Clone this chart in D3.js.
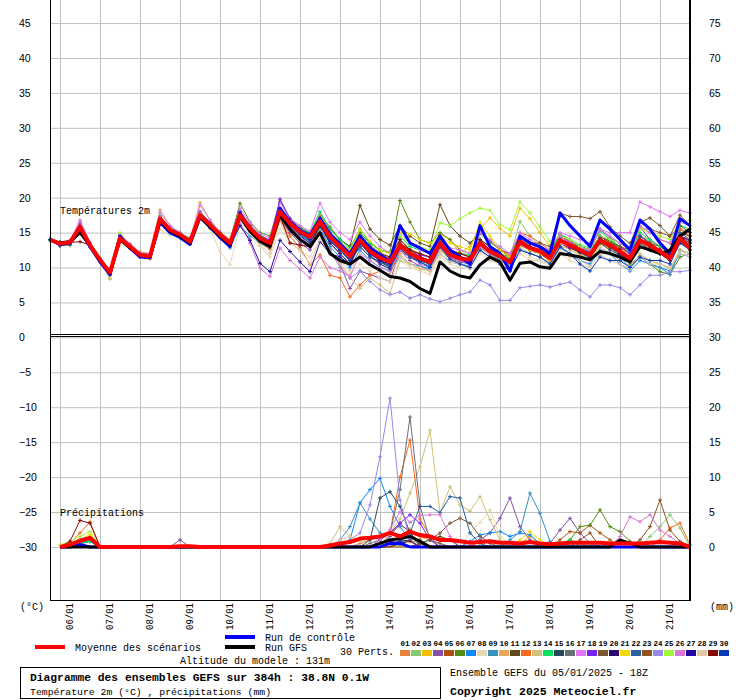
<!DOCTYPE html>
<html>
<head>
<meta charset="utf-8">
<title>Diagramme des ensembles GEFS</title>
<script src="https://cdn.jsdelivr.net/npm/d3@7"></script>
<style>
  body { margin: 0; background: #fff; }
  svg { display: block; }
</style>
</head>
<body>
<svg id="chart" width="740" height="700"></svg>
<script>
// ---- data ----
// temperatures 2m, one value every 6h from 05/01 18Z (t=0) to 384h -> 65 values
// layout of each row: first value, then 4 values per day (00Z 06Z 12Z 18Z) 06/01 .. 21/01
var t01 = [14.0, 13.5,13.8,15.5,13.3, 11.0,9.0,14.3,13.2, 11.9,11.5,16.8,15.6, 14.8,13.5,17.6,16.0, 14.4,13.1,17.2,15.0, 13.5,12.6,16.8,15.0, 14.0,13.0,15.5,13.5, 12.0,10.5,13.0,11.5, 10.5,9.8,12.5,11.5, 11.0,10.5,13.0,11.5, 11.0,10.5,12.8,12.0, 11.2,10.5,13.5,12.5, 12.0,11.0,13.0,12.8, 12.0,11.5,13.5,12.8, 12.0,11.0,14.0,13.0, 12.0,11.5,14.0,13.0];
var t02 = [14.0, 13.3,13.5,16.0,13.5, 11.3,9.5,14.6,13.1, 12.0,11.8,17.2,15.5, 14.8,13.9,17.9,16.4, 15.0,13.8,17.9,16.0, 14.6,13.9,18.3,16.8, 15.6,14.9,17.2,15.0, 13.8,12.5,14.8,13.2, 12.2,11.5,14.0,12.6, 12.0,11.4,14.2,12.5, 12.0,11.8,14.8,13.5, 12.8,11.5,16.6,14.5, 13.0,12.0,14.0,13.5, 12.8,12.2,14.5,14.0, 13.0,12.0,14.5,13.8, 13.0,12.2,15.0,14.5];
var t03 = [14.0, 13.4,13.7,15.6,13.0, 11.0,8.5,14.0,12.7, 11.5,11.2,16.8,15.2, 14.5,13.5,17.3,15.9, 14.6,13.3,17.3,15.5, 14.0,13.2,17.8,16.0, 14.8,14.0,16.2,14.0, 12.6,11.0,13.5,12.0, 11.0,10.2,13.0,12.5, 12.0,11.5,14.8,14.0, 12.0,13.0,15.5,17.1, 15.6,14.5,18.5,17.0, 15.0,13.0,13.8,13.0, 12.0,11.0,13.5,13.0, 12.2,11.0,13.8,13.0, 12.0,11.0,14.0,13.5];
var t04 = [14.0, 13.2,13.4,16.2,13.4, 11.2,9.4,14.4,13.2, 11.7,11.7,17.1,15.3, 14.6,13.6,17.4,16.0, 14.5,13.3,17.2,15.2, 13.8,13.0,17.0,15.0, 13.5,12.5,15.0,12.5, 10.5,7.0,9.5,9.0, 8.5,8.0,12.5,11.0, 10.2,9.5,12.8,11.2, 10.8,10.5,13.0,12.0, 11.0,10.5,13.5,12.5, 12.0,11.2,14.5,13.8, 13.0,12.5,15.5,14.2, 13.5,12.5,15.8,14.0, 13.0,12.0,15.5,14.5];
var t05 = [14.0, 13.5,13.6,15.4,13.1, 11.0,9.2,14.1,13.0, 11.9,11.6,16.9,15.3, 14.6,13.8,17.6,16.2, 14.8,13.6,17.6,15.8, 14.4,13.7,18.2,16.5, 15.3,14.6,16.9,14.6, 13.2,11.8,14.2,12.5, 11.6,11.0,13.4,12.2, 11.5,11.0,13.5,11.6, 11.0,10.8,13.2,12.0, 11.3,10.5,13.2,12.5, 12.0,11.0,13.5,12.8, 12.2,11.5,13.6,12.8, 12.0,11.0,13.5,12.8, 12.0,11.0,13.8,12.5];
var t06 = [14.0, 13.3,13.2,15.6,13.0, 11.2,9.4,14.6,13.0, 12.2,12.0,17.3,15.5, 14.9,14.2,18.0,16.5, 15.0,13.9,19.2,16.5, 15.0,14.5,19.5,17.0, 15.8,15.0,17.5,15.8, 14.0,13.0,15.0,13.5, 12.5,12.2,19.6,16.5, 14.0,13.5,15.0,14.0, 12.5,12.0,13.5,12.5, 12.0,11.5,14.5,13.0, 12.5,11.8,14.0,13.5, 12.5,12.0,14.0,13.5, 12.0,10.5,11.5,10.5, 9.4,9.0,11.5,12.0];
var t07 = [14.0, 13.4,13.5,15.0,12.9, 10.8,8.9,13.8,12.8, 11.6,11.5,16.6,15.0, 14.3,13.4,17.0,15.8, 14.2,12.8,16.0,14.5, 13.5,12.8,17.0,15.5, 14.5,13.8,15.5,13.0, 11.5,10.0,12.5,11.0, 10.0,9.5,11.5,10.5, 10.2,9.8,12.0,10.8, 10.5,10.2,12.5,11.5, 11.0,10.2,12.5,12.0, 11.5,10.5,12.8,12.0, 11.0,10.5,12.5,12.0, 10.5,9.5,11.0,10.5, 10.0,9.5,12.0,11.5];
var t08 = [14.0, 13.6,13.9,15.2,13.2, 11.0,9.0,13.3,12.9, 11.6,11.3,15.4,14.6, 14.5,13.5,17.0,15.5, 12.3,10.4,16.0,14.0, 13.0,11.5,15.5,13.5, 12.5,11.5,14.0,12.0, 10.5,9.0,10.5,9.5, 8.5,8.0,11.0,10.0, 9.5,9.0,11.5,10.5, 10.0,9.8,12.0,11.0, 10.5,10.0,12.5,11.5, 11.0,10.0,12.0,11.0, 10.5,10.0,12.0,11.0, 10.5,9.8,11.8,11.0, 10.5,10.0,12.5,11.5];
var t09 = [14.0, 13.2,13.4,15.7,13.3, 11.2,9.5,14.3,13.1, 11.8,11.7,17.2,15.5, 14.8,13.9,17.6,16.2, 14.8,13.7,17.8,15.8, 14.3,13.6,18.1,16.4, 15.0,14.2,16.5,14.0, 12.5,11.0,13.5,12.0, 11.0,10.5,12.8,11.5, 10.8,10.2,13.0,11.5, 11.0,10.8,13.2,12.0, 11.2,10.5,13.5,12.8, 12.2,11.5,14.2,13.2, 12.2,11.2,13.8,13.0, 11.5,10.0,11.5,10.5, 10.0,9.0,12.5,12.0];
var t10 = [14.0, 13.6,13.8,16.5,13.6, 11.4,9.6,14.8,13.4, 12.2,12.0,18.3,16.0, 15.0,14.0,19.3,16.8, 15.2,14.0,18.0,16.2, 14.5,13.8,18.5,16.8, 15.5,14.8,17.5,15.0, 13.5,12.0,14.5,12.8, 11.5,10.5,12.0,10.5, 9.8,9.5,12.5,11.5, 11.0,10.5,13.0,12.2, 11.5,11.0,14.0,13.5, 12.5,11.8,14.8,14.0, 13.0,12.5,14.5,13.8, 12.5,12.0,14.5,14.0, 13.0,12.5,15.5,15.0];
var t11 = [14.0, 13.5,13.6,15.9,13.3, 11.1,9.3,14.2,13.1, 11.9,11.7,17.1,15.5, 14.8,13.8,17.6,16.2, 14.8,13.6,17.6,15.7, 14.3,13.6,18.1,16.4, 15.4,14.8,17.2,15.5, 14.0,13.0,18.9,15.5, 14.0,13.2,16.0,14.5, 13.5,13.0,19.0,16.0, 14.5,13.5,15.0,13.8, 12.5,12.0,14.5,13.5, 13.0,12.0,14.5,13.5, 13.0,12.5,14.5,13.8, 13.0,12.0,14.5,13.5, 13.0,12.0,15.0,14.5];
var t12 = [14.0, 13.4,13.6,15.3,13.0, 10.9,9.1,14.0,12.8, 11.6,11.4,16.7,15.2, 14.5,13.6,17.2,15.8, 14.4,13.0,17.0,15.0, 13.6,12.8,16.8,14.5, 12.8,10.4,11.8,8.9, 8.5,5.8,7.5,8.9, 9.5,9.0,12.5,11.5, 11.0,10.5,13.5,12.0, 11.5,11.0,13.0,12.5, 12.5,11.8,15.0,14.5, 13.5,12.5,14.8,13.5, 12.5,12.0,14.5,13.5, 12.8,12.0,15.5,15.5, 14.0,13.5,15.5,14.5];
var t13 = [14.0, 13.7,13.9,15.9,13.4, 11.1,8.3,14.0,12.9, 11.7,11.5,16.9,15.3, 14.6,13.6,17.4,16.0, 14.5,13.3,17.3,15.4, 14.0,13.2,17.5,15.8, 14.5,13.2,15.2,12.5, 10.5,8.5,7.0,8.5, 7.5,6.3,11.0,10.5, 10.0,9.5,12.5,11.0, 10.5,10.0,12.8,11.8, 11.0,10.2,13.0,12.0, 11.5,10.8,13.2,12.5, 11.8,11.0,13.0,12.0, 11.0,10.0,12.0,11.0, 10.5,9.8,12.5,12.0];
var t14 = [14.0, 13.3,13.5,16.1,13.5, 11.3,9.5,14.8,13.3, 12.0,11.9,17.4,15.7, 15.0,14.0,17.9,16.5, 15.0,13.8,18.0,16.0, 14.6,13.9,18.4,16.8, 15.6,15.0,18.0,15.5, 14.0,12.8,15.5,13.5, 12.5,12.0,14.5,13.0, 12.5,12.0,14.0,12.5, 12.0,11.8,14.0,13.0, 12.0,11.2,14.5,13.5, 12.8,12.0,14.8,14.0, 13.2,12.8,15.2,14.0, 13.0,12.2,15.0,14.0, 13.0,12.5,16.0,15.5];
var t15 = [14.0, 13.1,13.3,15.5,13.1, 11.0,9.1,14.1,12.9, 11.7,11.5,16.9,15.3, 14.6,13.6,17.4,16.0, 14.6,13.4,17.4,15.4, 14.0,13.3,17.8,16.0, 14.8,14.0,16.0,13.8, 12.5,11.0,13.0,11.5, 10.8,10.0,12.5,11.5, 11.0,10.5,13.0,11.5, 11.2,10.8,13.0,12.0, 11.5,10.8,13.5,12.5, 12.0,11.0,13.5,12.8, 12.2,11.5,13.5,12.5, 11.8,11.0,13.5,12.5, 12.0,11.0,13.5,12.5];
var t16 = [14.0, 13.5,13.7,15.7,13.2, 11.1,9.3,14.2,13.0, 11.8,11.6,17.0,15.4, 14.7,13.7,17.5,16.1, 14.7,13.5,17.5,15.6, 14.2,13.5,18.0,16.3, 15.0,14.2,16.5,14.2, 12.8,11.5,14.0,12.5, 11.5,11.0,13.0,11.8, 11.2,10.8,13.2,11.5, 11.0,10.8,13.0,12.0, 11.5,10.8,13.5,12.8, 12.5,11.5,14.0,13.0, 12.5,12.0,14.0,13.0, 12.0,11.2,13.5,12.5, 12.0,11.0,13.8,13.0];
var t17 = [14.0, 13.4,13.8,16.8,13.6, 11.3,9.6,14.8,13.4, 12.1,12.0,17.9,16.0, 15.0,14.0,18.9,16.8, 15.0,13.8,18.5,16.4, 14.8,14.2,19.3,17.0, 16.0,15.2,19.2,16.5, 15.0,14.0,16.5,14.5, 13.0,12.0,15.0,13.5, 12.5,12.0,14.0,12.8, 12.5,12.0,15.0,14.0, 13.0,12.0,15.0,14.0, 13.0,12.5,15.0,14.5, 14.0,13.5,15.5,15.0, 15.0,15.0,19.4,18.7, 18.0,17.3,18.2,17.8];
var t18 = [14.0, 13.3,13.6,16.3,13.5, 11.2,9.4,14.5,13.2, 11.9,11.8,17.2,15.6, 14.9,14.0,17.9,16.4, 15.0,13.8,18.0,16.0, 14.5,13.9,19.8,17.0, 15.5,14.8,17.0,15.0, 13.5,12.0,14.5,13.0, 12.0,11.0,13.5,12.5, 11.8,11.5,14.0,12.5, 11.5,11.0,13.5,12.5, 12.0,11.0,13.5,13.0, 12.5,11.5,13.5,12.8, 12.5,12.0,14.5,13.5, 13.0,12.0,14.5,13.5, 12.5,12.0,14.5,14.0];
var t19 = [14.0, 13.6,13.5,15.6,13.2, 11.0,9.2,14.1,13.0, 11.8,11.6,16.9,15.3, 14.7,13.6,17.4,16.0, 14.6,13.4,17.4,15.5, 14.1,13.4,17.9,16.2, 15.0,14.2,16.5,14.2, 12.8,11.5,14.0,12.5, 11.5,11.0,13.5,12.5, 11.5,11.0,13.5,12.0, 12.0,11.5,13.8,12.5, 12.5,11.5,14.0,13.5, 13.5,13.0,17.8,17.3, 17.3,17.0,18.0,15.8, 14.5,13.5,16.5,17.1, 16.0,14.5,16.0,15.0];
var t20 = [14.0, 13.3,13.5,15.8,13.2, 11.1,9.3,14.3,13.0, 11.8,11.6,17.0,15.4, 14.7,13.7,17.6,16.1, 14.6,13.4,17.2,15.2, 13.8,13.0,17.5,15.8, 14.5,13.5,16.0,13.5, 12.0,10.5,13.5,12.0, 11.0,10.2,13.0,12.0, 11.0,10.5,13.2,11.5, 11.0,10.8,13.5,12.5, 11.8,11.0,13.8,13.0, 12.5,11.8,14.0,13.0, 12.2,11.5,13.8,13.0, 12.0,11.0,13.8,13.0, 12.0,11.0,14.0,13.0];
var t21 = [14.0, 13.5,13.7,15.6,13.1, 11.0,9.0,14.0,12.9, 11.7,11.5,16.9,15.3, 14.6,13.6,17.3,15.9, 14.5,13.3,17.2,15.4, 14.0,13.3,17.6,16.0, 14.9,14.2,16.8,14.8, 13.5,12.5,15.5,13.8, 12.5,12.0,15.0,14.8, 14.0,13.5,14.5,13.5, 13.0,12.5,16.5,14.5, 12.5,11.5,13.5,12.5, 12.0,11.0,13.5,13.0, 12.5,12.0,14.0,13.5, 12.5,11.5,14.0,13.5, 12.5,11.8,15.0,14.0];
var t22 = [14.0, 13.4,13.6,15.6,13.1, 11.0,9.2,14.0,12.9, 11.7,11.6,16.8,15.2, 14.5,13.6,17.3,15.9, 14.5,13.2,17.2,15.3, 13.8,13.0,17.5,15.8, 14.6,13.8,16.2,14.0, 12.5,11.0,13.0,11.5, 10.8,10.2,13.5,12.0, 11.0,10.5,13.5,11.8, 11.5,11.0,14.0,12.5, 11.8,11.0,14.0,13.0, 12.5,11.5,14.5,13.5, 12.8,12.2,14.5,13.5, 12.5,11.5,14.5,13.5, 12.5,11.5,15.0,14.0];
var t23 = [14.0, 13.5,13.8,16.0,13.4, 11.2,9.4,14.4,13.1, 11.9,11.7,17.1,15.5, 14.8,13.8,17.7,16.2, 14.8,13.6,17.8,15.8, 14.4,13.7,18.2,16.5, 15.3,14.6,17.0,14.8, 13.5,12.0,14.5,12.8, 11.8,11.0,13.5,12.5, 11.5,11.0,14.0,12.0, 11.5,11.2,13.5,12.5, 12.0,11.0,14.0,13.5, 12.8,12.0,14.5,13.5, 13.0,12.5,14.5,13.5, 13.0,12.5,16.5,15.5, 15.0,14.5,17.5,16.0];
var t24 = [14.0, 13.4,13.6,15.8,13.3, 11.2,9.3,14.2,13.0, 11.8,11.6,17.0,15.4, 14.7,13.7,17.5,16.0, 14.6,13.4,17.4,15.5, 14.0,13.2,17.6,15.8, 14.5,13.2,15.0,12.5, 10.0,8.5,9.5,8.0, 6.8,6.1,6.5,5.6, 6.1,5.5,5.1,5.6, 6.1,6.5,8.2,7.5, 5.3,5.3,7.1,7.3, 7.5,7.2,7.6,7.9, 6.8,5.8,7.5,7.5, 7.1,6.1,7.5,8.9, 8.9,9.4,9.4,9.6];
var t25 = [14.0, 13.3,13.4,15.6,13.2, 11.1,9.3,15.0,13.0, 11.8,11.6,17.1,15.4, 14.7,13.8,17.6,16.1, 14.7,13.5,17.6,15.6, 14.2,13.5,18.1,16.3, 15.2,14.5,16.8,14.8, 13.2,12.0,14.2,12.8, 12.0,11.5,14.5,13.5, 13.0,12.5,16.4,16.0, 17.0,17.8,18.5,18.2, 16.1,15.4,19.4,17.8, 15.8,13.7,14.5,14.0, 13.0,12.5,14.5,14.0, 13.5,13.0,15.5,15.0, 14.5,14.0,16.5,16.8];
var t26 = [14.0, 13.6,13.9,16.6,13.5, 11.2,9.4,14.5,13.2, 11.9,11.7,17.2,15.6, 14.9,13.9,17.8,16.2, 14.5,13.0,16.5,13.5, 9.9,8.7,12.8,11.0, 9.8,8.5,11.5,10.0, 9.5,8.7,12.0,11.0, 10.0,9.5,12.5,11.5, 10.5,10.0,13.0,11.5, 11.0,10.5,13.0,12.0, 11.5,10.8,14.0,13.5, 12.5,11.5,14.5,13.5, 12.8,12.5,15.5,14.5, 13.5,13.0,16.0,15.0, 14.0,13.5,16.5,16.0];
var t27 = [14.0, 13.4,13.6,15.5,13.1, 11.0,9.1,14.1,12.9, 11.7,11.5,16.8,15.3, 14.6,13.6,17.3,15.9, 14.5,13.3,16.0,13.9, 10.6,9.4,13.9,12.3, 10.8,9.4,13.7,12.0, 11.5,10.5,13.5,12.0, 11.0,10.5,13.0,12.0, 11.5,11.0,13.5,12.0, 11.5,11.0,13.5,12.5, 11.8,11.0,14.0,13.0, 12.5,11.5,14.0,13.0, 12.5,12.0,14.2,13.2, 12.5,11.5,14.0,13.0, 12.5,11.5,14.5,13.5];
var t28 = [14.0, 13.5,13.8,15.4,13.0, 10.9,9.0,13.8,12.8, 11.5,11.3,16.6,15.1, 14.4,13.4,17.0,15.6, 14.2,13.0,16.8,14.8, 13.2,12.0,16.5,13.5, 12.5,10.5,14.0,12.0, 11.0,9.5,12.0,10.5, 9.5,9.0,11.5,10.5, 10.0,9.5,12.0,10.8, 10.5,10.0,12.5,11.0, 10.8,10.0,12.0,11.0, 11.0,10.5,12.5,11.5, 11.0,10.2,11.8,11.0, 10.5,9.8,11.5,10.5, 10.5,10.0,12.0,11.5];
var t29 = [14.0, 13.6,13.6,13.7,13.2, 11.0,9.2,14.0,12.9, 11.7,11.5,16.9,15.3, 14.6,13.6,17.4,16.0, 14.6,13.4,17.4,15.5, 14.2,13.4,17.4,13.5, 13.2,13.0,16.0,14.5, 13.0,12.0,14.5,13.0, 12.0,11.5,14.0,12.5, 12.0,11.5,14.5,12.5, 12.0,11.5,14.0,13.0, 12.0,11.0,13.5,12.8, 12.5,11.5,13.8,13.0, 12.5,12.0,14.0,13.2, 12.5,11.5,14.0,13.2, 12.5,11.8,14.5,13.8];
var t30 = [14.0, 13.2,13.4,15.4,13.0, 10.9,9.0,14.0,12.8, 11.6,11.4,16.7,15.1, 14.4,13.4,17.1,15.7, 14.4,13.2,17.2,15.3, 13.9,13.2,17.8,16.0, 14.8,14.0,16.2,13.8, 12.5,11.0,13.5,11.8, 10.5,9.8,12.8,11.5, 10.8,10.0,13.0,11.2, 10.5,10.0,12.5,11.5, 10.5,9.5,12.5,12.0, 11.5,10.5,13.0,12.0, 10.5,9.5,11.5,11.0, 11.0,10.0,11.5,11.0, 11.0,10.5,13.5,13.0];
var tControl = [14.0, 13.3,13.5,15.2,13.0, 10.8,9.0,14.5,12.8, 11.5,11.4,16.5,15.0, 14.3,13.3,17.2,15.8, 14.3,13.0,17.8,15.4, 14.0,13.2,18.5,16.5, 15.3,14.6,17.0,14.8, 13.4,12.0,14.5,12.8, 11.8,11.0,16.0,13.5, 12.8,12.0,14.5,12.5, 11.5,10.5,16.0,13.0, 12.0,9.5,14.5,13.5, 13.0,12.0,17.8,16.0, 14.5,13.0,16.8,15.5, 14.0,12.5,16.8,15.5, 13.5,12.0,17.0,16.0];
var tGfs = [14.0, 13.5,13.7,15.0,13.2, 11.0,9.2,14.0,12.8, 11.8,11.5,16.8,15.2, 14.5,13.5,17.3,15.8, 14.5,13.3,17.3,15.2, 13.8,13.0,17.5,15.5, 14.0,13.0,15.0,12.0, 11.0,10.5,11.5,10.4, 9.6,8.7,8.5,8.0, 7.0,6.3,10.8,9.5, 8.8,8.5,10.4,11.5, 10.8,8.2,10.6,10.8, 10.1,9.9,12.0,11.8, 11.5,11.1,12.3,12.0, 11.5,10.8,13.0,12.5, 12.0,12.5,14.5,15.5];
var tMean = [14.0, 13.4,13.6,15.8,13.2, 11.1,9.3,14.2,13.0, 11.8,11.6,17.0,15.4, 14.7,13.7,17.5,16.1, 14.7,13.5,17.5,15.6, 14.2,13.5,18.0,16.3, 15.1,14.4,16.6,14.4, 13.0,11.6,13.9,12.3, 11.4,10.8,13.2,12.0, 11.3,10.8,13.5,11.8, 11.3,11.1,13.5,12.3, 11.6,10.8,13.7,12.8, 12.3,11.3,13.9,13.2, 12.5,11.8,13.9,13.2, 12.3,11.3,13.9,13.2, 12.3,11.3,14.2,12.8];

// precipitation (mm per 6h), 64 values, first one ends 06/01 00Z, 4 per day
var p01 = [0,0.3,0.8,1.5, 0,0,0,0, 0,0,0,0, 0,0,0,0, 0,0,0,0, 0,0,0,0, 0,0,0,0, 0,0,0.5,1, 1.5,2,3,2.5, 1.5,1,0.5,0, 0,0,0,0, 0,0,0,0, 0,0,0.5,1, 0.5,0,0,0, 0,0,0,0, 0,0,0,0];
var p02 = [0,0,0.8,1.2, 0,0,0,0, 0,0,0,0, 0,0,0,0, 0,0,0,0, 0,0,0,0, 0,0,0,0, 0,0,0,0, 0,0,0.5,1, 0.5,0,0,0, 0,0,0,0, 0,0,0,0, 0,0,0,0, 0,0,0,0, 0,0,0,1.5, 2.9,4.6,2.7,0];
var p03 = [0,0.5,1,1.5, 0,0,0,0, 0,0,0,0, 0,0,0,0, 0,0,0,0, 0,0,0,0, 0,0,0,0, 0,0,0,0, 0,1,0.8,0, 0,0,0,0, 0,0,0,0, 0,0,0.5,1.5, 0.5,0,0,0, 0,0,0,0, 0,0,0,0, 0,0,0,0];
var p04 = [0,0,0.5,0.8, 0,0,0,0, 0,0,0,0, 1,0,0,0, 0,0,0,0, 0,0,0,0, 0,0,0,0, 0,0,0,0, 0,1.5,3.4,2, 0,0,0,0, 0,0,1,2, 4.1,7,2.9,1, 0,0.5,2.4,4.1, 2,0.5,0,0, 0,0,0,0, 0,0,0,0];
var p05 = [0,0,0.5,1, 0,0,0,0, 0,0,0,0, 0,0,0,0, 0,0,0,0, 0,0,0,0, 0,0,0,0, 0,0,0,0, 0,0.5,1,1.5, 1,0,0,0, 0,0,0,0, 0,0,0,0, 0,0,1,2.2, 2,3.1,2,1, 0,0,0,0, 0,0,0,0];
var p06 = [0,0,0.6,1, 0,0,0,0, 0,0,0,0, 0,0,0,0, 0,0,0,0, 0,0,0,0, 0,0,0,0, 0,0,0,0, 0,0,0.5,0, 0,0,0,0, 0,0,0,0, 0,0,0,0, 0,0,0,1, 2.9,3.1,5.3,2.9, 2.2,0.8,0,0, 0,0,0,0];
var p07 = [0,0,0.4,0.8, 0,0,0,0, 0,0,0,0, 0,0,0,0, 0,0,0,0, 0,0,0,0, 0,0,0,0, 0,1,6.3,8.2, 9.8,5.8,2.9,1, 0,0,0,0, 0,0.8,1.7,2, 2.2,1.5,2,1.7, 0.5,0,0,0, 0,0,0,0, 0,0,0,0, 0,0,0,0];
var p08 = [0,0,0.5,0, 0,0,0,0, 0,0,0,0, 0,0,0,0, 0,0,0,0, 0,0,0,0, 0,0,0,0, 0,0,0,0, 0,0,0,0, 0,0,0,0, 0,2,3.5,5.3, 1.5,0.5,0,0, 0,0,0,0, 0,0,0,0, 0,0,0,0, 0,0,0,0];
var p09 = [0,0,0,0, 0,0,0,0, 0,0,0,0, 0,0,0,0, 0,0,0,0, 0,0,0,0, 0,0,0,0, 1,2.9,6.3,4, 2,1,0,0, 0,0,0,0, 0,0,0,0, 0,1,2.2,7.7, 4.8,0.8,0,0, 0,0,0,0, 0,0,0,0, 0,0,0,0];
var p10 = [0,0,0.8,1.5, 0,0,0,0, 0,0,0,0, 0,0,0,0, 0,0,0,0, 0,0,0,0, 0,0,0,0, 0,0,0,0, 0,0,1,2, 1.5,1,0,0, 0,0,0,0, 0,0,0,0, 0,0,0,0, 0,0,0,0, 0,0,0,0, 0,0,0,0];
var p11 = [0,0,0.5,0, 0,0,0,0, 0,0,0,0, 0,0,0,0, 0,0,0,0, 0,0,0,0, 0,0,0,0, 0,0,0,0, 0,0,0,0, 0.5,1,1.5,1, 0,0,0,0, 0,0,0,0, 0,0,0,0, 0,0,0,0, 0,0,0,0, 0,0,0,0];
var p12 = [0,0.5,2,3.6, 0,0,0,0, 0,0,0,0, 0,0,0,0, 0,0,0,0, 0,0,0,0, 0,0,0,0, 0,0,0,0, 0,2,10,15.3, 4,1.5,0,0, 0,0,0,0, 0,0,0,0, 0,0,0,0, 0,0,0,0, 0,0,0,0, 1,2.7,3.4,0.3];
var p13 = [0,0,0.5,0, 0,0,0,0, 0,0,0,0, 0,0,0,0, 0,0,0,0, 0,0,0,0, 0,0,0,0.5, 2.9,1.5,1,0, 0,2,4,7.7, 11.5,16.7,4.9,8.6, 6,5.1,7.2,3.9, 1,0,0,0, 0,0,0,0, 0,0,0,0, 0,0,0,0, 0,0,0,0];
var p14 = [0,0,0.5,0.8, 0,0,0,0, 0,0,0,0, 0,0,0,0, 0,0,0,0, 0,0,0,0, 0,0,0,0, 0,0,0,0, 0,0,0.5,1, 0,0,0,0, 0,0,0,0, 0,0,0,0, 0,0,0.5,1, 0,0,0,0, 0,0,0,0, 0,0,0,0];
var p15 = [0,0,0.3,0, 0,0,0,0, 0,0,0,0, 0,0,0,0, 0,0,0,0, 0,0,0,0, 0,0,0,0, 0,0,0,1, 7,7.9,5.8,2, 0.5,0,0,0, 0,0,0,0, 0,0,0,0, 0,0,0,0, 0,0,0,0, 0,0,0,0, 0,0,0,0];
var p16 = [0,0,0.5,0, 0,0,0,0, 0,0,0,0, 0,0,0,0, 0,0,0,0, 0,0,0,0, 0,0,0,0, 0,0,0,0.5, 1,2,8.2,18.6, 5.8,1,0.5,0, 0,0,0,0, 0,0,0,0, 0,0,0,0, 0,0,0,0, 0,0,0,0, 0,0,0,0];
var p17 = [0,0,0.5,0, 0,0,0,0, 0,0,0,0, 0,0,0,0, 0,0,0,0, 0,0,0,0, 0,0,0,0, 0,0,0,0, 0,0.5,1,0, 0,0,0,0, 0,0,0,0, 0,0,0,0, 0,0,0,0, 0,0,0,0, 0,0,0,0, 0,0,0,0];
var p18 = [0,0,0.3,0, 0,0,0,0, 0,0,0,0, 0,0,0,0, 0,0,0,0, 0,0,0,0, 0,0,0,0, 0,0,0,0, 1,2,3.4,4.6, 3.4,1,0,0, 0,0,0,0, 0,0,0,0, 0,0,0,0, 0,0,0,0, 0,0,0,0, 0,0,0,0];
var p19 = [0,0,0.5,0, 0,0,0,0, 0,0,0,0, 0,0,0,0, 0,0,0,0, 0,0,0,0, 0,0,0,0, 0,0,0,0, 0,0,0,0, 0.5,1,2,3.4, 4.1,3.4,1.5,0.5, 0,0,0,0, 0,0,0,0, 0,0,0,0, 0,0,0,0, 0,0,0,0];
var p20 = [0,0,0.3,0, 0,0,0,0, 0,0,0,0, 0,0,0,0, 0,0,0,0, 0,0,0,0, 0,0,0,0, 0,0,0,0, 0,0,0.8,1, 0,0,0,0, 0,0,0,0, 0,0,0,0, 0,0,0,0, 0,0,0,0, 0,0,0,0, 0,0,0,0];
var p21 = [0,0.5,1,1.8, 0,0,0,0, 0,0,0,0, 0,0,0,0, 0,0,0,0, 0,0,0,0, 0,0,0,0, 0,0,0,0, 0,0,0.5,0, 0,0,0,0, 0,0,0,0, 0,0,1,2.2, 1,0,0,0, 0,0,0,0, 0,0,0,0, 0,0,0,0];
var p22 = [0,0,0.3,0, 0,0,0,0, 0,0,0,0, 0,0,0,0, 0,0,0,0, 0,0,0,0, 0,0,0,0, 0,0,0,0, 0,0,0.5,2, 5.8,5.8,4.9,7.2, 7,2,0.5,0, 0,0,0,0, 0,0,0,0, 0,0,0,0, 0,0,0,0, 0,0,0,0];
var p23 = [0,0,0.5,0, 0,0,0,0, 0,0,0,0, 0,0,0,0, 0,0,0,0, 0,0,0,0, 0,0,0,0, 0,0,0,0, 0,0,0,0, 0,0,0,0, 0,0,0,0, 0,0,0,0, 0,0,0,0, 1,2,0,0, 0,0,1,2.9, 6.7,2.4,0.8,0];
var p24 = [0,0,0.5,0, 0,0,0,0, 0,0,0,0, 0,0,0,0, 0,0,0,0, 0,0,0,0, 0,0,0,0, 0,1,2,6, 12.9,21.3,6.7,1, 0,0,0,0, 0,0,0,0, 0,0,0,0, 0,0,0,0, 0,0,0,0, 0,0,0,0, 0,0,0,0];
var p25 = [0.3,0.8,1.5,2.2, 0,0,0,0, 0,0,0,0, 0,0,0,0, 0,0,0,0, 0,0,0,0, 0,0,0,0, 0,0,0,0, 0,0,0.5,0, 0,0,0,0, 0,0,0,0, 0,0,0,0, 0,0,0,0, 0,0,0,0, 0,0,0,0, 0,0,0,0];
var p26 = [0,0,0.5,0, 0,0,0,0, 0,0,0,0, 0,0,0,0, 0,0,0,0, 0,0,0,0, 0,0,0,0, 0,0,0,0, 1,2.5,5,3.5, 4.5,4.6,4.6,1.5, 0,0,0,0, 0,0,0,0, 0,0,0,0, 0,0,0,0, 1.5,4.3,3.6,4.6, 2.4,1.5,0.5,0];
var p27 = [0,0,0.3,0, 0,0,0,0, 0,0,0,0, 0,0,0,0, 0,0,0,0, 0,0,0,0, 0,0,0,0, 0,0,0,0, 0,0.8,0.5,0, 0,0,0,0, 0,0,0,0, 0,0,0,0, 0,0,0,0, 0,0,0,0, 0,0,0,0, 0,0,0,0];
var p28 = [0,0,0.3,0, 0,0,0,0, 0,0,0,0, 0,0,0,0, 0,0,0,0, 0,0,0,0, 0,0,0,0, 1,1.5,0.8,0, 0,0,0,0, 0,0,0,0, 0,0,0,0, 0,0,0,0, 0,0,0,0, 0,0,0,0, 0,0,0,0, 0,0,0,0];
var p29 = [0,0.8,3.8,3.4, 0,0,0,0, 0,0,0,0, 0,0,0,0, 0,0,0,0, 0,0,0,0, 0,0,0,0, 0,0,0,0, 0,0,0.5,0.8, 0,0,0,0, 0,0,0,0, 0,0,0,0, 0,0,0,0, 0,0,0,0, 0,0,0,0, 0,0,0,0];
var p30 = [0,0,0.3,0, 0,0,0,0, 0,0,0,0, 0,0,0,0, 0,0,0,0, 0,0,0,0, 0,0,0,0, 0,0,0,0, 0,0.5,0.8,0, 0,0,0,0, 0,0,0,0, 0,0,0,0, 0,0,0,0, 0,0,0,0, 0,0,0,0, 0,0,0,0];
var pControl = [0,0,0.3,0, 0,0,0,0, 0,0,0,0, 0,0,0,0, 0,0,0,0, 0,0,0,0, 0,0,0,0, 0,0,0,0, 0,0.5,0.5,0, 0,0,0,0, 0,0,0,0, 0,0,0,0, 0,0,0,0, 0,0,0,0, 0,0,0,0, 0,0,0,0];
var pGfs = [0,0,0,0, 0,0,0,0, 0,0,0,0, 0,0,0,0, 0,0,0,0, 0,0,0,0, 0,0,0,0, 0,0,0,0, 0.5,1,1.2,1.5, 0.8,0,0,0, 0,0,0,0, 0,0,0,0, 0,0,0,0, 0,0,0,0, 1,0.5,0,0, 0,0,0,0];
var pMean = [0,0.3,0.9,1.3, 0,0,0,0, 0,0,0,0, 0.1,0.1,0,0, 0,0,0,0, 0,0,0,0, 0,0,0,0.2, 0.5,0.7,1.2,1.3, 1.5,2,1.5,2.2, 1.7,1.5,1,1, 0.8,0.6,0.7,0.8, 0.6,0.6,0.5,0.7, 0.5,0.4,0.5,0.6, 0.6,0.6,0.6,0.5, 0.5,0.5,0.5,0.6, 0.7,0.6,0.5,0];

// 30 perturbation colours, as in the legend swatches
var memberColors = ['#e8823a','#88c870','#f0c000','#8850a8','#b05010','#588a10','#1088f8','#e8d8b0','#3890c0','#e8a858',
                    '#604818','#f86820','#d0c078','#08e060','#284858','#687078','#e078f8','#7820f0','#785830','#300870',
                    '#f0d800','#2860a0','#8c5420','#9888e8','#a0f838','#d878d8','#2008a0','#e0c8a8','#880808','#0838b8'];
var memberNames = ['01','02','03','04','05','06','07','08','09','10','11','12','13','14','15',
                   '16','17','18','19','20','21','22','23','24','25','26','27','28','29','30'];
var dayLabels = ['06/01','07/01','08/01','09/01','10/01','11/01','12/01','13/01','14/01','15/01','16/01','17/01','18/01','19/01','20/01','21/01'];
// left scale ticks (°C); the right scale shows the same lines +30 (mm)
var leftTicks = [45,40,35,30,25,20,15,10,5,0,-5,-10,-15,-20,-25,-30];

var tempMembers = [t01,t02,t03,t04,t05,t06,t07,t08,t09,t10,t11,t12,t13,t14,t15,t16,t17,t18,t19,t20,t21,t22,t23,t24,t25,t26,t27,t28,t29,t30];
var precipMembers = [p01,p02,p03,p04,p05,p06,p07,p08,p09,p10,p11,p12,p13,p14,p15,p16,p17,p18,p19,p20,p21,p22,p23,p24,p25,p26,p27,p28,p29,p30];

var MONO = "'Liberation Mono', 'DejaVu Sans Mono', monospace";
var SANS = "'Liberation Sans', Arial, sans-serif";

d3.select(window).on('load', init);

function init() {
    var svg = d3.select('#chart');

    // hours since 05/01 18Z -> px, one shared scale for °C and mm (mm = value - 30)
    var x = d3.scaleLinear().domain([0, 384]).range([50, 690]);
    var y = d3.scaleLinear().domain([-37.6, 48.3]).range([600, 0]);

    var dayHours = dayLabels.map(function (d, i) { return 6 + 24 * i; });

    // vertical grid + rotated date labels
    var gx = svg.append('g')
        .attr('transform', 'translate(0,600)')
        .call(d3.axisBottom(x).tickValues(dayHours)
            .tickFormat(function (d, i) { return dayLabels[i]; })
            .tickSize(-600));
    gx.select('.domain').remove();
    gx.selectAll('line').attr('stroke', '#c0c0c0');
    gx.selectAll('text')
        .attr('transform', 'rotate(-90)')
        .attr('x', -3).attr('y', 12).attr('dy', 0)
        .attr('text-anchor', 'end')
        .attr('font-family', MONO).attr('font-size', 11.5)
        .attr('textLength', 27).attr('lengthAdjust', 'spacingAndGlyphs')
        .attr('fill', '#000');

    // horizontal grid + left labels
    var gl = svg.append('g')
        .attr('transform', 'translate(50,0)')
        .call(d3.axisLeft(y).tickValues(leftTicks).tickSize(-640).tickPadding(31));
    gl.select('.domain').remove();
    gl.selectAll('line').attr('stroke', '#c0c0c0');
    gl.selectAll('text')
        .attr('text-anchor', 'start')
        .attr('font-family', SANS).attr('font-size', 10.5)
        .attr('fill', '#000');

    // right labels
    var gr = svg.append('g')
        .attr('transform', 'translate(690,0)')
        .call(d3.axisRight(y).tickValues(leftTicks)
            .tickFormat(function (d) { return d + 30; })
            .tickSize(0).tickPadding(19));
    gr.select('.domain').remove();
    gr.selectAll('text')
        .attr('font-family', SANS).attr('font-size', 10.5)
        .attr('fill', '#000');

    var lineT = d3.line()
        .x(function (d, i) { return x(i * 6); })
        .y(function (d) { return y(d); });
    var lineP = d3.line()
        .x(function (d, i) { return x((i + 1) * 6); })
        .y(function (d) { return y(d - 30); });

    function cross(px, py) {
        return 'M' + (px - 2) + ',' + py + 'h4M' + px + ',' + (py - 2) + 'v4';
    }

    // perturbations (thin, with small + markers)
    var members = svg.append('g').attr('fill', 'none').attr('stroke-width', 1);
    tempMembers.forEach(function (serie, k) {
        var col = memberColors[k];
        members.append('path').attr('d', lineT(serie)).attr('stroke', col);
        members.append('path')
            .attr('d', serie.map(function (d, i) { return cross(x(i * 6), y(d)); }).join(''))
            .attr('stroke', col);
    });
    precipMembers.forEach(function (serie, k) {
        var col = memberColors[k];
        members.append('path').attr('d', lineP(serie)).attr('stroke', col);
        var marks = [];
        serie.forEach(function (d, i) {
            if (d > 0) marks.push(cross(x((i + 1) * 6), y(d - 30)));
        });
        if (marks.length) members.append('path').attr('d', marks.join('')).attr('stroke', col);
    });

    // control run, GFS run, then the mean on top
    var thick = svg.append('g').attr('fill', 'none').attr('stroke-linejoin', 'round');
    thick.append('path').attr('d', lineT(tControl)).attr('stroke', '#0000ff').attr('stroke-width', 3);
    thick.append('path').attr('d', lineP(pControl)).attr('stroke', '#0000ff').attr('stroke-width', 3);
    thick.append('path').attr('d', lineT(tGfs)).attr('stroke', '#000000').attr('stroke-width', 3);
    thick.append('path').attr('d', lineP(pGfs)).attr('stroke', '#000000').attr('stroke-width', 3);
    thick.append('path').attr('d', lineT(tMean)).attr('stroke', '#ff0000').attr('stroke-width', 4);
    thick.append('path').attr('d', lineP(pMean)).attr('stroke', '#ff0000').attr('stroke-width', 4);

    // frame
    var frame = svg.append('g').attr('stroke', '#000').attr('shape-rendering', 'crispEdges');
    frame.append('line').attr('x1', 50.5).attr('x2', 50.5).attr('y1', 0).attr('y2', 600);
    frame.append('line').attr('x1', 50).attr('x2', 690).attr('y1', 600.5).attr('y2', 600.5);
    frame.append('line').attr('x1', 690).attr('x2', 690).attr('y1', 0).attr('y2', 601).attr('stroke-width', 2);
    frame.append('line').attr('x1', 50).attr('x2', 690).attr('y1', 334.5).attr('y2', 334.5);
    frame.append('line').attr('x1', 50).attr('x2', 690).attr('y1', 336.5).attr('y2', 336.5);

    // panel titles
    svg.append('text').attr('x', 60).attr('y', 214).text('Températures 2m')
        .attr('font-family', MONO).attr('font-size', 10);
    svg.append('text').attr('x', 60).attr('y', 516).text('Précipitations')
        .attr('font-family', MONO).attr('font-size', 10);

    // units
    svg.append('text').attr('x', 20).attr('y', 610).text('(°C)')
        .attr('font-family', MONO).attr('font-size', 10);
    svg.append('text').attr('x', 710).attr('y', 610).text('(mm)')
        .attr('font-family', MONO).attr('font-size', 10);

    // legend lines
    var leg = svg.append('g').attr('font-family', MONO).attr('font-size', 10);
    leg.append('line').attr('x1', 35).attr('x2', 65).attr('y1', 647).attr('y2', 647)
        .attr('stroke', '#ff0000').attr('stroke-width', 4);
    leg.append('text').attr('x', 75).attr('y', 651).text('Moyenne des scénarios');
    leg.append('line').attr('x1', 225).attr('x2', 255).attr('y1', 637).attr('y2', 637)
        .attr('stroke', '#0000ff').attr('stroke-width', 4);
    leg.append('text').attr('x', 265).attr('y', 641).text('Run de contrôle');
    leg.append('line').attr('x1', 225).attr('x2', 255).attr('y1', 647).attr('y2', 647)
        .attr('stroke', '#000000').attr('stroke-width', 4);
    leg.append('text').attr('x', 265).attr('y', 651).text('Run GFS');
    leg.append('text').attr('x', 180).attr('y', 664).text('Altitude du modele : 131m');
    leg.append('text').attr('x', 340).attr('y', 655).text('30 Perts.');

    // perturbation swatches
    var sw = svg.append('g');
    sw.selectAll('rect').data(memberColors).enter().append('rect')
        .attr('x', function (d, i) { return 400 + 11 * i; })
        .attr('y', 650).attr('width', 10).attr('height', 6)
        .attr('fill', function (d) { return d; });
    sw.selectAll('text').data(memberNames).enter().append('text')
        .attr('x', function (d, i) { return 405 + 11 * i; })
        .attr('y', 646)
        .attr('text-anchor', 'middle')
        .attr('font-family', MONO).attr('font-size', 8).attr('font-weight', 'bold')
        .attr('textLength', 9).attr('lengthAdjust', 'spacingAndGlyphs')
        .text(function (d) { return d; });

    // title box
    svg.append('rect').attr('x', 20.5).attr('y', 667.5).attr('width', 420).attr('height', 31)
        .attr('fill', 'none').attr('stroke', '#000');
    svg.append('text').attr('x', 30).attr('y', 681)
        .attr('font-family', MONO).attr('font-size', 11.3).attr('font-weight', 'bold')
        .text('Diagramme des ensembles GEFS sur 384h : 38.8N 0.1W');
    svg.append('text').attr('x', 30).attr('y', 695)
        .attr('font-family', MONO).attr('font-size', 9.8)
        .text('Température 2m (°C) , précipitations (mm)');

    svg.append('text').attr('x', 450).attr('y', 676)
        .attr('font-family', MONO).attr('font-size', 10)
        .text('Ensemble GEFS du 05/01/2025 - 18Z');
    svg.append('text').attr('x', 450).attr('y', 695)
        .attr('font-family', MONO).attr('font-size', 11.5).attr('font-weight', 'bold')
        .text('Copyright 2025 Meteociel.fr');
}
</script>
</body>
</html>
